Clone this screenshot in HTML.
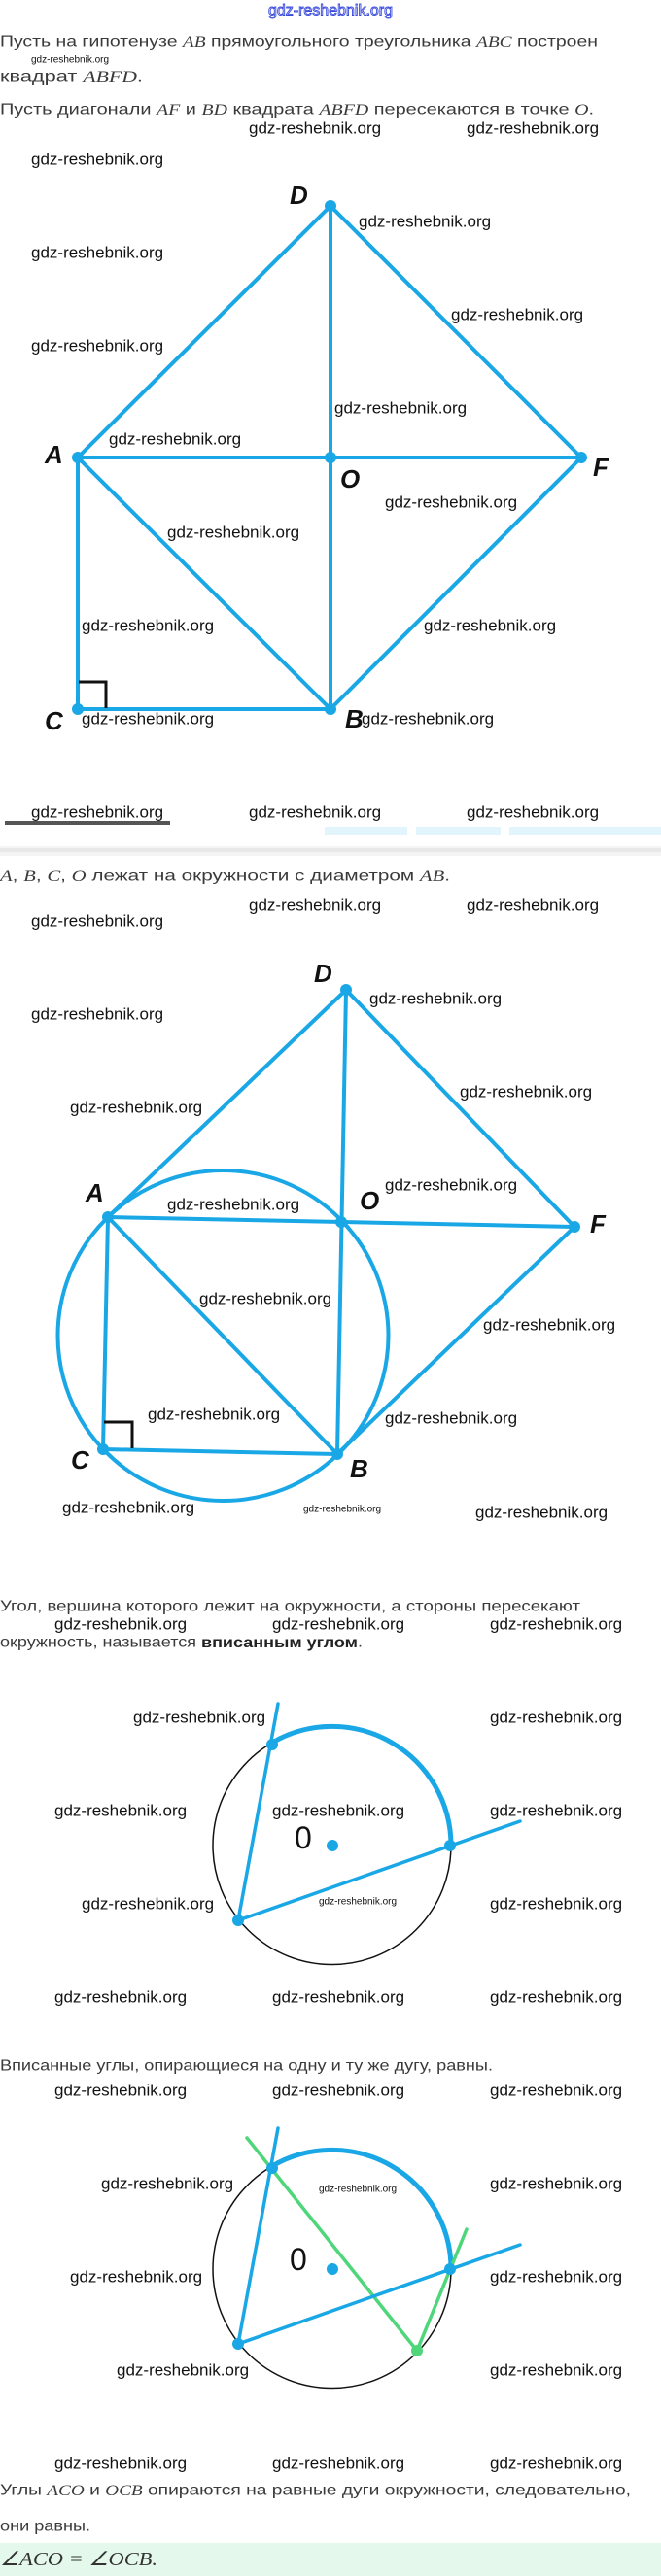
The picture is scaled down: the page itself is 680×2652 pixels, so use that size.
<!DOCTYPE html>
<html><head><meta charset="utf-8"><style>
html,body{margin:0;padding:0;background:#fff;width:680px;height:2652px;overflow:hidden}
svg{display:block}
.t{font-family:"Liberation Sans",sans-serif;font-size:16px;fill:#3a3a3a}
.m{font-family:"Liberation Serif",serif;font-style:italic}
.w{font-family:"Liberation Sans",sans-serif;font-size:17px;fill:#111}
.ws{font-family:"Liberation Sans",sans-serif;font-size:10px;fill:#111}
.L{font-family:"Liberation Sans",sans-serif;font-size:26px;font-weight:bold;font-style:italic;fill:#111}
.ln{stroke:#1aa7e6;stroke-width:4;fill:none;stroke-linecap:round}
.pt{fill:#1aa7e6}
</style></head><body>
<svg width="680" height="2652" viewBox="0 0 680 2652" xmlns="http://www.w3.org/2000/svg" dominant-baseline="central">
<text x="340" y="11" text-anchor="middle" style="font-family:'Liberation Sans',sans-serif;font-size:16px;fill:#fff;stroke:#3a4bdc;stroke-width:0.9">gdz-reshebnik.org</text>
<text class="t" x="0" y="43" textLength="615" lengthAdjust="spacingAndGlyphs">Пусть на гипотенузе <tspan class="m">AB</tspan> прямоугольного треугольника <tspan class="m">ABC</tspan> построен</text>
<text class="t" x="0" y="79" textLength="147" lengthAdjust="spacingAndGlyphs">квадрат <tspan class="m">ABFD</tspan>.</text>
<text class="t" x="0" y="113" textLength="611" lengthAdjust="spacingAndGlyphs">Пусть диагонали <tspan class="m">AF</tspan> и <tspan class="m">BD</tspan> квадрата <tspan class="m">ABFD</tspan> пересекаются в точке <tspan class="m">O</tspan>.</text>

<!-- diagram 1 -->
<g class="ln">
<line x1="80" y1="471" x2="340" y2="212"/><line x1="340" y1="212" x2="598" y2="471"/>
<line x1="80" y1="471" x2="598" y2="471"/><line x1="340" y1="212" x2="340" y2="730"/>
<line x1="80" y1="471" x2="340" y2="730"/><line x1="598" y1="471" x2="340" y2="730"/>
<line x1="80" y1="471" x2="80" y2="730"/><line x1="80" y1="730" x2="340" y2="730"/>
</g>
<polyline points="81,702 109,702 109,729" fill="none" stroke="#111" stroke-width="3"/>
<g class="pt"><circle cx="340" cy="212" r="6"/><circle cx="80" cy="471" r="6"/><circle cx="340" cy="471" r="6"/><circle cx="598" cy="471" r="6"/><circle cx="80" cy="730" r="6"/><circle cx="340" cy="730" r="6"/></g>
<text class="L" x="298" y="201">D</text><text class="L" x="46" y="468">A</text><text class="L" x="350" y="493">O</text><text class="L" x="610" y="481">F</text><text class="L" x="46" y="742">C</text><text class="L" x="355" y="740">B</text>

<!-- separator -->
<rect x="5" y="845" width="170" height="4" fill="#555"/>
<rect x="334" y="851" width="85" height="9" fill="#e3f5fc"/><rect x="428" y="851" width="87" height="9" fill="#e3f5fc"/><rect x="524" y="851" width="156" height="9" fill="#e3f5fc"/>
<rect x="0" y="871" width="680" height="10" fill="#f4f4f4"/><rect x="0" y="873" width="680" height="4" fill="#e8e8e8"/>
<text class="t" x="0" y="902" textLength="463" lengthAdjust="spacingAndGlyphs"><tspan class="m">A</tspan>, <tspan class="m">B</tspan>, <tspan class="m">C</tspan>, <tspan class="m">O</tspan> лежат на окружности с диаметром <tspan class="m">AB</tspan>.</text>

<!-- diagram 2 -->
<g class="ln">
<circle cx="229.5" cy="1375" r="170"/>
<line x1="111" y1="1253" x2="356" y2="1019"/><line x1="356" y1="1019" x2="591" y2="1263"/>
<line x1="111" y1="1253" x2="591" y2="1263"/><line x1="356" y1="1019" x2="347" y2="1497"/>
<line x1="111" y1="1253" x2="347" y2="1497"/><line x1="591" y1="1263" x2="347" y2="1497"/>
<line x1="111" y1="1253" x2="106" y2="1492"/><line x1="106" y1="1492" x2="347" y2="1497"/>
</g>
<polyline points="107,1464 136,1464 136,1491" fill="none" stroke="#111" stroke-width="3"/>
<g class="pt"><circle cx="356" cy="1019" r="6"/><circle cx="111" cy="1253" r="6"/><circle cx="351" cy="1258" r="6"/><circle cx="591" cy="1263" r="6"/><circle cx="106" cy="1492" r="6"/><circle cx="347" cy="1497" r="6"/></g>
<text class="L" x="323" y="1002">D</text><text class="L" x="88" y="1228">A</text><text class="L" x="370" y="1236">O</text><text class="L" x="607" y="1260">F</text><text class="L" x="73" y="1503">C</text><text class="L" x="360" y="1512">B</text>

<text class="t" x="0" y="1654" textLength="597" lengthAdjust="spacingAndGlyphs">Угол, вершина которого лежит на окружности, а стороны пересекают</text>
<text class="t" x="0" y="1691" textLength="373" lengthAdjust="spacingAndGlyphs">окружность, называется <tspan font-weight="bold" fill="#222">вписанным углом</tspan>.</text>

<!-- diagram 3 -->
<circle cx="341.5" cy="1900" r="122.5" fill="none" stroke="#111" stroke-width="1.5"/>
<path class="ln" d="M279.1 1794.5 A122.5 122.5 0 0 1 464 1900" style="stroke-width:5"/>
<g class="ln" style="stroke-width:3.5"><line x1="245" y1="1977" x2="286" y2="1754"/><line x1="245" y1="1977" x2="535" y2="1875"/></g>
<g class="pt"><circle cx="280" cy="1796" r="6"/><circle cx="463" cy="1900" r="6"/><circle cx="245" cy="1977" r="6"/><circle cx="342" cy="1900" r="6"/></g>
<text x="303" y="1892" style="font-family:'Liberation Sans',sans-serif;font-size:32px;fill:#111">0</text>

<text class="t" x="0" y="2127" textLength="507" lengthAdjust="spacingAndGlyphs">Вписанные углы, опирающиеся на одну и ту же дугу, равны.</text>

<!-- diagram 4 -->
<circle cx="341.5" cy="2336" r="122.5" fill="none" stroke="#111" stroke-width="1.5"/>
<path class="ln" d="M279.1 2230.5 A122.5 122.5 0 0 1 464 2336" style="stroke-width:5"/>
<g style="stroke:#4fd67a;stroke-width:3.5;stroke-linecap:round"><line x1="254" y1="2201" x2="429" y2="2420"/><line x1="429" y1="2420" x2="480" y2="2295"/></g>
<g class="ln" style="stroke-width:3.5"><line x1="245" y1="2413" x2="286" y2="2191"/><line x1="245" y1="2413" x2="535" y2="2311"/></g>
<g class="pt"><circle cx="280" cy="2232" r="6"/><circle cx="463" cy="2336" r="6"/><circle cx="245" cy="2413" r="6"/><circle cx="342" cy="2336" r="6"/></g>
<circle cx="429" cy="2420" r="6" fill="#4fd67a"/>
<text x="298" y="2326" style="font-family:'Liberation Sans',sans-serif;font-size:32px;fill:#111">0</text>

<text class="t" x="0" y="2564" textLength="649" lengthAdjust="spacingAndGlyphs">Углы <tspan class="m">ACO</tspan> и <tspan class="m">OCB</tspan> опираются на равные дуги окружности, следовательно,</text>
<text class="t" x="0" y="2601" textLength="93" lengthAdjust="spacingAndGlyphs">они равны.</text>
<rect x="0" y="2618" width="680" height="34" fill="#e4f9ec"/>
<text x="0" y="2635" textLength="162" lengthAdjust="spacingAndGlyphs" style="font-family:'Liberation Serif',serif;font-size:20px;font-style:italic;fill:#333">∠ACO = ∠OCB.</text>

<!-- watermarks -->
<g class="w">
<text x="256" y="132">gdz-reshebnik.org</text><text x="480" y="132">gdz-reshebnik.org</text><text x="32" y="164">gdz-reshebnik.org</text>
<text x="369" y="228">gdz-reshebnik.org</text><text x="32" y="260">gdz-reshebnik.org</text><text x="464" y="324">gdz-reshebnik.org</text>
<text x="32" y="356">gdz-reshebnik.org</text><text x="344" y="420">gdz-reshebnik.org</text><text x="112" y="452">gdz-reshebnik.org</text>
<text x="396" y="517">gdz-reshebnik.org</text><text x="172" y="548">gdz-reshebnik.org</text><text x="84" y="644">gdz-reshebnik.org</text>
<text x="436" y="644">gdz-reshebnik.org</text><text x="84" y="740">gdz-reshebnik.org</text><text x="372" y="740">gdz-reshebnik.org</text>
<text x="32" y="836">gdz-reshebnik.org</text><text x="256" y="836">gdz-reshebnik.org</text><text x="480" y="836">gdz-reshebnik.org</text>
<text x="256" y="932">gdz-reshebnik.org</text><text x="480" y="932">gdz-reshebnik.org</text><text x="32" y="948">gdz-reshebnik.org</text>
<text x="380" y="1028">gdz-reshebnik.org</text><text x="32" y="1044">gdz-reshebnik.org</text><text x="473" y="1124">gdz-reshebnik.org</text>
<text x="72" y="1140">gdz-reshebnik.org</text><text x="396" y="1220">gdz-reshebnik.org</text><text x="172" y="1240">gdz-reshebnik.org</text>
<text x="205" y="1337">gdz-reshebnik.org</text><text x="497" y="1364">gdz-reshebnik.org</text><text x="152" y="1456">gdz-reshebnik.org</text>
<text x="396" y="1460">gdz-reshebnik.org</text><text x="64" y="1552">gdz-reshebnik.org</text><text x="489" y="1557">gdz-reshebnik.org</text>
<text x="56" y="1672">gdz-reshebnik.org</text><text x="280" y="1672">gdz-reshebnik.org</text><text x="504" y="1672">gdz-reshebnik.org</text>
<text x="137" y="1768">gdz-reshebnik.org</text><text x="504" y="1768">gdz-reshebnik.org</text>
<text x="56" y="1864">gdz-reshebnik.org</text><text x="280" y="1864">gdz-reshebnik.org</text><text x="504" y="1864">gdz-reshebnik.org</text>
<text x="84" y="1960">gdz-reshebnik.org</text><text x="504" y="1960">gdz-reshebnik.org</text>
<text x="56" y="2056">gdz-reshebnik.org</text><text x="280" y="2056">gdz-reshebnik.org</text><text x="504" y="2056">gdz-reshebnik.org</text>
<text x="56" y="2152">gdz-reshebnik.org</text><text x="280" y="2152">gdz-reshebnik.org</text><text x="504" y="2152">gdz-reshebnik.org</text>
<text x="104" y="2248">gdz-reshebnik.org</text><text x="504" y="2248">gdz-reshebnik.org</text>
<text x="72" y="2344">gdz-reshebnik.org</text><text x="504" y="2344">gdz-reshebnik.org</text>
<text x="120" y="2440">gdz-reshebnik.org</text><text x="504" y="2440">gdz-reshebnik.org</text>
<text x="56" y="2536">gdz-reshebnik.org</text><text x="280" y="2536">gdz-reshebnik.org</text><text x="504" y="2536">gdz-reshebnik.org</text>
</g>
<g class="ws">
<text x="32" y="62">gdz-reshebnik.org</text><text x="312" y="1554">gdz-reshebnik.org</text>
<text x="328" y="1958">gdz-reshebnik.org</text><text x="328" y="2254">gdz-reshebnik.org</text>
</g>
</svg>
</body></html>
